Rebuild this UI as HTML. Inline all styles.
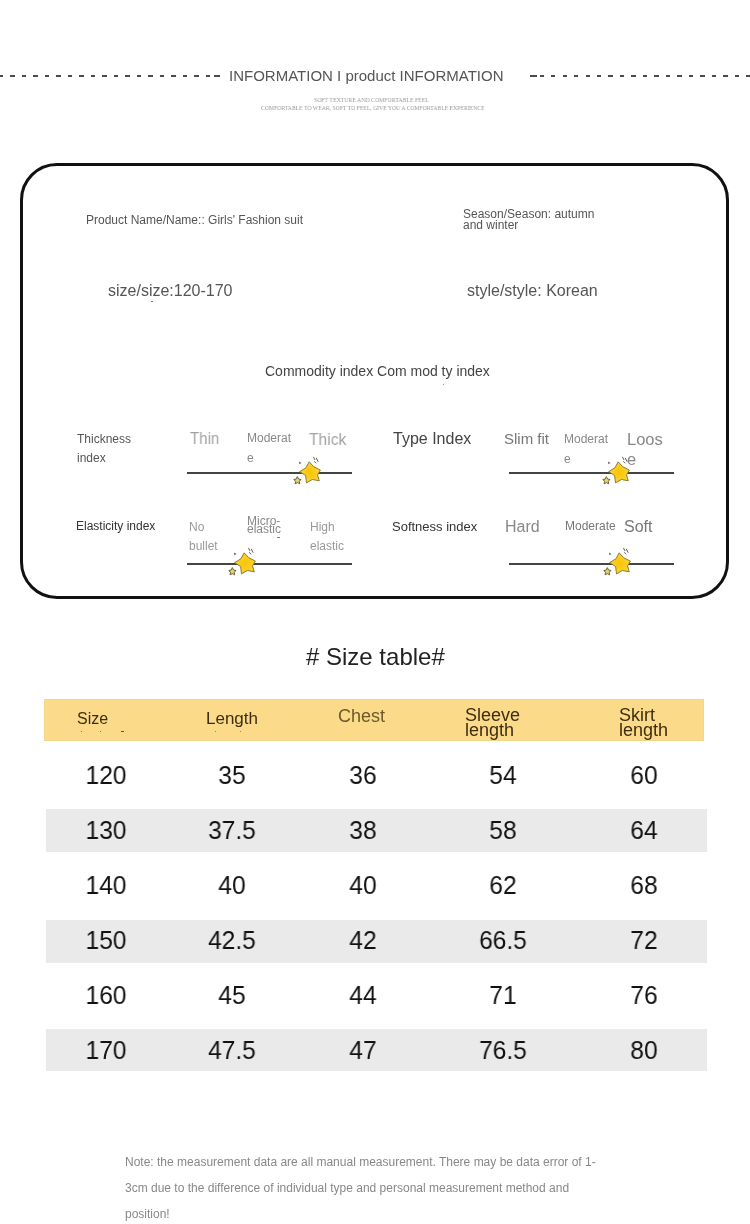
<!DOCTYPE html>
<html><head><meta charset="utf-8"><style>
html,body{margin:0;padding:0;background:#fff;}
body{width:750px;height:1224px;position:relative;overflow:hidden;font-family:"Liberation Sans",sans-serif;}
.t{position:absolute;white-space:nowrap;will-change:transform;}
.d{position:absolute;top:74.9px;width:4.4px;height:2.2px;background:#4a4a4a;}
.box{position:absolute;left:20px;top:163px;width:703px;height:429.5px;border:3px solid #111;border-radius:37px;}
.ln{position:absolute;height:2px;background:#444;}
.st{position:absolute;}
.hdr{position:absolute;left:44.1px;top:698.5px;width:660.4px;height:42.2px;background:#FBDB8A;box-shadow:inset 0 0 0 0.6px #EFD38A;}
.g{position:absolute;left:45.5px;width:661.4px;height:42.5px;background:#EAEAEA;}
.n{position:absolute;width:120px;text-align:center;font-size:25.5px;line-height:24px;color:#111;transform:scaleX(0.965);will-change:transform;}
</style></head><body>
<div class="d" style="left:-1.09px"></div><div class="d" style="left:10.40px"></div><div class="d" style="left:21.89px"></div><div class="d" style="left:33.37px"></div><div class="d" style="left:44.86px"></div><div class="d" style="left:56.34px"></div><div class="d" style="left:67.83px"></div><div class="d" style="left:79.32px"></div><div class="d" style="left:90.80px"></div><div class="d" style="left:102.29px"></div><div class="d" style="left:113.77px"></div><div class="d" style="left:125.26px"></div><div class="d" style="left:136.75px"></div><div class="d" style="left:148.23px"></div><div class="d" style="left:159.72px"></div><div class="d" style="left:171.20px"></div><div class="d" style="left:182.69px"></div><div class="d" style="left:194.18px"></div><div class="d" style="left:205.66px"></div><div class="d" style="left:213.6px;width:6px"></div><div class="d" style="left:530.4px;width:6.4px"></div><div class="d" style="left:539.60px"></div><div class="d" style="left:551.08px"></div><div class="d" style="left:562.56px"></div><div class="d" style="left:574.04px"></div><div class="d" style="left:585.52px"></div><div class="d" style="left:597.00px"></div><div class="d" style="left:608.48px"></div><div class="d" style="left:619.96px"></div><div class="d" style="left:631.44px"></div><div class="d" style="left:642.92px"></div><div class="d" style="left:654.40px"></div><div class="d" style="left:665.88px"></div><div class="d" style="left:677.36px"></div><div class="d" style="left:688.84px"></div><div class="d" style="left:700.32px"></div><div class="d" style="left:711.80px"></div><div class="d" style="left:723.28px"></div><div class="d" style="left:734.76px"></div><div class="d" style="left:746.24px"></div>
<div class="box"></div>
<div class="hdr"></div>
<div class="g" style="top:809.1px"></div>
<div class="g" style="top:920.4px"></div>
<div class="g" style="top:1028.6px;height:42.6px"></div>
<div class="ln" style="left:187px;top:471.8px;width:165px"></div><div class="ln" style="left:508.7px;top:471.8px;width:165.3px"></div><div class="ln" style="left:187px;top:563px;width:165px"></div><div class="ln" style="left:508.7px;top:563px;width:165.3px"></div>
<div class="t" style="left:229px;top:68.00px;font-size:15px;line-height:15px;color:#555;">INFORMATION I product INFORMATION</div><div class="t" style="left:314.2px;top:97.00px;font-size:7px;line-height:7px;color:#999;font-family:'Liberation Serif',serif;transform:scaleX(0.83);transform-origin:0 0;">SOFT TEXTURE AND COMFORTABLE FEEL</div><div class="t" style="left:260.5px;top:105.00px;font-size:7px;line-height:7px;color:#999;font-family:'Liberation Serif',serif;transform:scaleX(0.815);transform-origin:0 0;">COMFORTABLE TO WEAR, SOFT TO FEEL, GIVE YOU A COMFORTABLE EXPERIENCE</div><div class="t" style="left:85.5px;top:214.00px;font-size:12px;line-height:12px;color:#555;">Product Name/Name:: Girls' Fashion suit</div><div class="t" style="left:462.5px;top:208.00px;font-size:12px;line-height:12px;color:#555;">Season/Season: autumn</div><div class="t" style="left:462.5px;top:219.00px;font-size:12px;line-height:12px;color:#555;">and winter</div><div class="t" style="left:107.5px;top:283.00px;font-size:16px;line-height:16px;color:#555;">size/size:120-170</div><div class="t" style="left:466.5px;top:283.00px;font-size:16px;line-height:16px;color:#555;">style/style: Korean</div><div class="t" style="left:264.5px;top:364.00px;font-size:14px;line-height:14px;color:#444;">Commodity index Com mod ty index</div><div class="t" style="left:76.5px;top:433.00px;font-size:12px;line-height:12px;color:#555;">Thickness</div><div class="t" style="left:76.5px;top:452.00px;font-size:12px;line-height:12px;color:#555;">index</div><div class="t" style="left:189.5px;top:431.00px;font-size:16px;line-height:16px;color:#a2a2a2;transform:scaleX(0.94);transform-origin:0 0;">Thin</div><div class="t" style="left:246.5px;top:432.00px;font-size:12px;line-height:12px;color:#888;">Moderat</div><div class="t" style="left:246.5px;top:452.00px;font-size:12px;line-height:12px;color:#888;">e</div><div class="t" style="left:309px;top:431.00px;font-size:16.5px;line-height:16.5px;color:#a2a2a2;transform:scaleX(0.945);transform-origin:0 0;">Thick</div><div class="t" style="left:392.5px;top:431.00px;font-size:16px;line-height:16px;color:#444;">Type Index</div><div class="t" style="left:503.5px;top:431.00px;font-size:15px;line-height:15px;color:#777;">Slim fit</div><div class="t" style="left:563.5px;top:433.00px;font-size:12px;line-height:12px;color:#888;">Moderat</div><div class="t" style="left:563.5px;top:453.00px;font-size:12px;line-height:12px;color:#888;">e</div><div class="t" style="left:626.5px;top:431.00px;font-size:16.5px;line-height:16.5px;color:#888;">Loos</div><div class="t" style="left:626.5px;top:451.00px;font-size:16.5px;line-height:16.5px;color:#888;">e</div><div class="t" style="left:75.5px;top:520.00px;font-size:12px;line-height:12px;color:#333;">Elasticity index</div><div class="t" style="left:188.5px;top:521.00px;font-size:12px;line-height:12px;color:#999;">No</div><div class="t" style="left:188.5px;top:540.00px;font-size:12px;line-height:12px;color:#999;">bullet</div><div class="t" style="left:246.5px;top:515.00px;font-size:12px;line-height:12px;color:#888;">Micro-</div><div class="t" style="left:246.5px;top:523.00px;font-size:12px;line-height:12px;color:#888;">elastic</div><div class="t" style="left:309.5px;top:521.00px;font-size:12px;line-height:12px;color:#999;">High</div><div class="t" style="left:309.5px;top:540.00px;font-size:12px;line-height:12px;color:#999;">elastic</div><div class="t" style="left:391.5px;top:520.00px;font-size:13px;line-height:13px;color:#333;">Softness index</div><div class="t" style="left:504.5px;top:519.00px;font-size:16px;line-height:16px;color:#888;">Hard</div><div class="t" style="left:564.5px;top:520.00px;font-size:12px;line-height:12px;color:#777;">Moderate</div><div class="t" style="left:623.5px;top:519.00px;font-size:16px;line-height:16px;color:#777;">Soft</div><div class="t" style="left:306px;top:645.00px;font-size:24px;line-height:24px;color:#222;"># Size table#</div><div class="t" style="left:76.5px;top:711.00px;font-size:16px;line-height:16px;color:#3d2e12;">Size</div><div class="t" style="left:205.8px;top:710.00px;font-size:17px;line-height:17px;color:#3d2e12;">Length</div><div class="t" style="left:337.5px;top:707.00px;font-size:18px;line-height:18px;color:#6b5a2a;">Chest</div><div class="t" style="left:465px;top:706.00px;font-size:18px;line-height:18px;color:#3d2e12;">Sleeve</div><div class="t" style="left:465px;top:721.00px;font-size:18px;line-height:18px;color:#3d2e12;">length</div><div class="t" style="left:618.5px;top:706.00px;font-size:18px;line-height:18px;color:#3d2e12;">Skirt</div><div class="t" style="left:618.5px;top:721.00px;font-size:18px;line-height:18px;color:#3d2e12;">length</div><div class="t" style="left:125px;top:1156.00px;font-size:12px;line-height:12px;color:#888;">Note: the measurement data are all manual measurement. There may be data error of 1-</div><div class="t" style="left:125px;top:1182.00px;font-size:12px;line-height:12px;color:#888;">3cm due to the difference of individual type and personal measurement method and</div><div class="t" style="left:125px;top:1208.00px;font-size:12px;line-height:12px;color:#888;">position!</div>
<div class="n" style="left:46.3px;top:763.00px">120</div><div class="n" style="left:171.5px;top:763.00px">35</div><div class="n" style="left:302.8px;top:763.00px">36</div><div class="n" style="left:442.5px;top:763.00px">54</div><div class="n" style="left:583.5px;top:763.00px">60</div><div class="n" style="left:46.3px;top:818.00px">130</div><div class="n" style="left:171.5px;top:818.00px">37.5</div><div class="n" style="left:302.8px;top:818.00px">38</div><div class="n" style="left:442.5px;top:818.00px">58</div><div class="n" style="left:583.5px;top:818.00px">64</div><div class="n" style="left:46.3px;top:873.00px">140</div><div class="n" style="left:171.5px;top:873.00px">40</div><div class="n" style="left:302.8px;top:873.00px">40</div><div class="n" style="left:442.5px;top:873.00px">62</div><div class="n" style="left:583.5px;top:873.00px">68</div><div class="n" style="left:46.3px;top:928.00px">150</div><div class="n" style="left:171.5px;top:928.00px">42.5</div><div class="n" style="left:302.8px;top:928.00px">42</div><div class="n" style="left:442.5px;top:928.00px">66.5</div><div class="n" style="left:583.5px;top:928.00px">72</div><div class="n" style="left:46.3px;top:983.00px">160</div><div class="n" style="left:171.5px;top:983.00px">45</div><div class="n" style="left:302.8px;top:983.00px">44</div><div class="n" style="left:442.5px;top:983.00px">71</div><div class="n" style="left:583.5px;top:983.00px">76</div><div class="n" style="left:46.3px;top:1038.00px">170</div><div class="n" style="left:171.5px;top:1038.00px">47.5</div><div class="n" style="left:302.8px;top:1038.00px">47</div><div class="n" style="left:442.5px;top:1038.00px">76.5</div><div class="n" style="left:583.5px;top:1038.00px">80</div>
<svg class="st" style="left:290px;top:451.5px" width="40" height="40" viewBox="0 0 40 40">
<defs><radialGradient id="sg1" cx="0.5" cy="0.5" r="0.5"><stop offset="0" stop-color="#FAC400"/><stop offset="1" stop-color="#F8D43A"/></radialGradient></defs>

<path d="M19.2 9.8 L23.5 14.6 L30.4 18.1 L27.5 23 L29.3 28.8 L22.4 27.5 L16.5 30.9 L15.6 23.5 L9.6 19.7 L16 15.7 Z" fill="url(#sg1)" stroke="#857020" stroke-width="0.9" stroke-linejoin="round"/>
<path d="M7.3 24.6 L8.6 27 L11 27.5 L9.3 29.3 L9.7 31.8 L7.4 30.7 L5.1 31.8 L5.5 29.3 L3.8 27.5 L6.1 27.1 Z" fill="#E2D27C" stroke="#5e5628" stroke-width="0.9" stroke-linejoin="round"/>
<path d="M23.6 5.2 L24.8 7.6 M26.4 6.2 L28 9.4 M24.6 9.6 L25.8 11" stroke="#5f5f50" stroke-width="1" fill="none" stroke-linecap="round"/>
<path d="M9 9.6 L11.6 10.9 L9.4 12.2 Z" fill="#666"/>
</svg><svg class="st" style="left:224.5px;top:542.5px" width="40" height="40" viewBox="0 0 40 40">
<defs><radialGradient id="sg2" cx="0.5" cy="0.5" r="0.5"><stop offset="0" stop-color="#FAC400"/><stop offset="1" stop-color="#F8D43A"/></radialGradient></defs>

<path d="M19.2 9.8 L23.5 14.6 L30.4 18.1 L27.5 23 L29.3 28.8 L22.4 27.5 L16.5 30.9 L15.6 23.5 L9.6 19.7 L16 15.7 Z" fill="url(#sg2)" stroke="#857020" stroke-width="0.9" stroke-linejoin="round"/>
<path d="M7.3 24.6 L8.6 27 L11 27.5 L9.3 29.3 L9.7 31.8 L7.4 30.7 L5.1 31.8 L5.5 29.3 L3.8 27.5 L6.1 27.1 Z" fill="#E2D27C" stroke="#5e5628" stroke-width="0.9" stroke-linejoin="round"/>
<path d="M23.6 5.2 L24.8 7.6 M26.4 6.2 L28 9.4 M24.6 9.6 L25.8 11" stroke="#5f5f50" stroke-width="1" fill="none" stroke-linecap="round"/>
<path d="M9 9.6 L11.6 10.9 L9.4 12.2 Z" fill="#666"/>
</svg><svg class="st" style="left:598.5px;top:451.8px" width="40" height="40" viewBox="0 0 40 40">
<defs><radialGradient id="sg3" cx="0.5" cy="0.5" r="0.5"><stop offset="0" stop-color="#FAC400"/><stop offset="1" stop-color="#F8D43A"/></radialGradient></defs>

<path d="M19.2 9.8 L23.5 14.6 L30.4 18.1 L27.5 23 L29.3 28.8 L22.4 27.5 L16.5 30.9 L15.6 23.5 L9.6 19.7 L16 15.7 Z" fill="url(#sg3)" stroke="#857020" stroke-width="0.9" stroke-linejoin="round"/>
<path d="M7.3 24.6 L8.6 27 L11 27.5 L9.3 29.3 L9.7 31.8 L7.4 30.7 L5.1 31.8 L5.5 29.3 L3.8 27.5 L6.1 27.1 Z" fill="#E2D27C" stroke="#5e5628" stroke-width="0.9" stroke-linejoin="round"/>
<path d="M23.6 5.2 L24.8 7.6 M26.4 6.2 L28 9.4 M24.6 9.6 L25.8 11" stroke="#5f5f50" stroke-width="1" fill="none" stroke-linecap="round"/>
<path d="M9 9.6 L11.6 10.9 L9.4 12.2 Z" fill="#666"/>
</svg><svg class="st" style="left:600.3px;top:542.5px" width="40" height="40" viewBox="0 0 40 40">
<defs><radialGradient id="sg4" cx="0.5" cy="0.5" r="0.5"><stop offset="0" stop-color="#FAC400"/><stop offset="1" stop-color="#F8D43A"/></radialGradient></defs>

<path d="M19.2 9.8 L23.5 14.6 L30.4 18.1 L27.5 23 L29.3 28.8 L22.4 27.5 L16.5 30.9 L15.6 23.5 L9.6 19.7 L16 15.7 Z" fill="url(#sg4)" stroke="#857020" stroke-width="0.9" stroke-linejoin="round"/>
<path d="M7.3 24.6 L8.6 27 L11 27.5 L9.3 29.3 L9.7 31.8 L7.4 30.7 L5.1 31.8 L5.5 29.3 L3.8 27.5 L6.1 27.1 Z" fill="#E2D27C" stroke="#5e5628" stroke-width="0.9" stroke-linejoin="round"/>
<path d="M23.6 5.2 L24.8 7.6 M26.4 6.2 L28 9.4 M24.6 9.6 L25.8 11" stroke="#5f5f50" stroke-width="1" fill="none" stroke-linecap="round"/>
<path d="M9 9.6 L11.6 10.9 L9.4 12.2 Z" fill="#666"/>
</svg>
<div style="position:absolute;left:151px;top:300.5px;width:1.5px;height:1.5px;background:#777"></div><div style="position:absolute;left:80.5px;top:731px;width:1.3px;height:1.3px;background:#777"></div><div style="position:absolute;left:99.5px;top:731px;width:1.3px;height:1.3px;background:#777"></div><div style="position:absolute;left:121px;top:731px;width:3px;height:1.2px;background:#555"></div><div style="position:absolute;left:214.5px;top:731px;width:1.3px;height:1.3px;background:#888"></div><div style="position:absolute;left:239.5px;top:731px;width:1.3px;height:1.3px;background:#888"></div><div style="position:absolute;left:276.5px;top:536.5px;width:3px;height:1px;background:#777"></div><div style="position:absolute;left:443px;top:384px;width:1.2px;height:1.2px;background:#999"></div>
</body></html>
